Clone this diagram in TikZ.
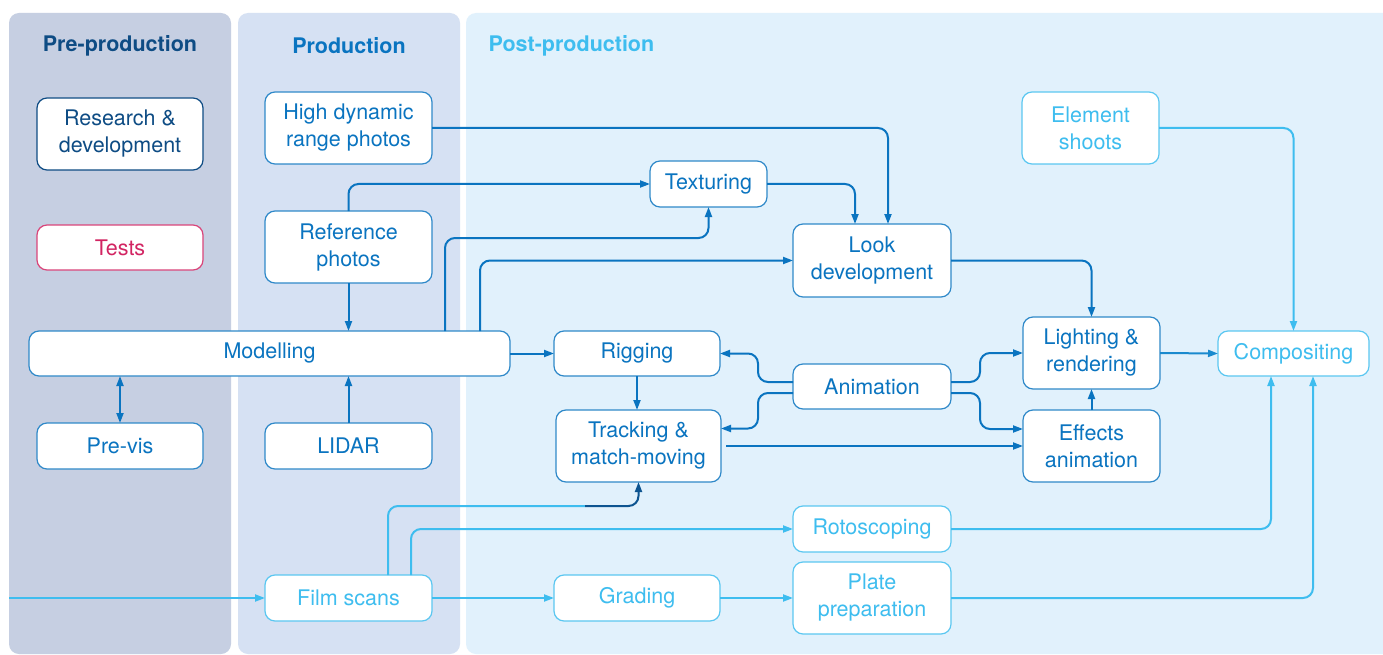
\documentclass[tikz,border=0pt]{standalone}
\usepackage{fontspec}
\setmainfont{TeX Gyre Heros}
\usetikzlibrary{arrows.meta}
\definecolor{navy}{HTML}{0E4C84}
\definecolor{mblue}{HTML}{0A74C0}
\definecolor{cyanc}{HTML}{3EBDEF}
\definecolor{crim}{HTML}{D22462}
\definecolor{prepan}{HTML}{C6CFE2}
\definecolor{prodpan}{HTML}{D6E1F3}
\definecolor{postpan}{HTML}{E1F1FC}
\tikzset{
  box/.style={draw=mblue!85!white, fill=white, text=mblue, rounded corners=10pt, line width=1.2pt,
    inner sep=0pt, outer sep=0pt, align=center, font=\fontsize{21.5}{27}\selectfont},
  navybox/.style={box, draw=navy, text=navy},
  cybox/.style={box, draw=cyanc!85!white, text=cyanc},
  crbox/.style={box, draw=crim!85!white, text=crim},
  arr/.style={draw=mblue, line width=2pt, rounded corners=10pt, -{Triangle[length=10pt,width=7pt]}},
  dblarr/.style={arr, {Triangle[length=10pt,width=7pt]}-{Triangle[length=10pt,width=7pt]}},
  cyarr/.style={arr, draw=cyanc},
  cyline/.style={draw=cyanc, line width=2pt, rounded corners=10pt},
  head/.style={font=\fontsize{21.5}{27}\selectfont\bfseries},
  panel/.style={rounded corners=10pt}
}
\begin{document}
\begin{tikzpicture}[x=1pt,y=-1pt]
\useasboundingbox (0,0) rectangle (1383,655);
\fill[white] (0,0) rectangle (1383,655);
\begin{scope}
\clip (0,0) rectangle (1383,655);
\fill[prepan, panel] (9,13) rectangle (231,654);
\fill[prodpan, panel] (238,13) rectangle (460,654);
\fill[postpan, panel] (466,13) rectangle (1395,654);
\end{scope}
\node[head, text=navy] (hpre) at (120,46) {Pre-production};
\node[head, text=mblue] (hprod) at (349,46) {Production};
\node[head, text=cyanc, anchor=west] (hpost) at (485,46) {Post-production};

% nodes
\node[navybox, minimum width=166, minimum height=72] (rd) at (120,134) {Research \&\\development};
\node[crbox, minimum width=166, minimum height=45] (tests) at (120,247.5) {Tests};
\node[box, minimum width=481, minimum height=45] (model) at (269.5,353.5) {Modelling};
\node[box, minimum width=166, minimum height=46] (previs) at (120,446) {Pre-vis};
\node[box, minimum width=167, minimum height=72] (hdr) at (348.5,128) {High dynamic\\range photos};
\node[box, minimum width=167, minimum height=72] (ref) at (348.5,247) {Reference\\photos};
\node[box, minimum width=167, minimum height=46] (lidar) at (348.5,446) {LIDAR};
\node[cybox, minimum width=167, minimum height=46] (film) at (348.5,598) {Film scans};
\node[box, minimum width=117, minimum height=46] (tex) at (708.5,184) {Texturing};
\node[box, minimum width=158, minimum height=73] (look) at (872,260.5) {Look\\development};
\node[box, minimum width=166, minimum height=45] (rig) at (637,353.5) {Rigging};
\node[box, minimum width=165, minimum height=72] (track) at (638.5,446) {Tracking \&\\match-moving};
\node[box, minimum width=158, minimum height=45] (anim) at (872,386.5) {Animation};
\node[box, minimum width=137, minimum height=72] (light) at (1091.5,353) {Lighting \&\\rendering};
\node[box, minimum width=137, minimum height=72] (fx) at (1091.5,446) {Effects\\animation};
\node[cybox, minimum width=151, minimum height=45] (comp) at (1293.5,353.5) {Compositing};
\node[cybox, minimum width=137, minimum height=72] (elem) at (1090.5,128) {Element\\shoots};
\node[cybox, minimum width=158, minimum height=46] (roto) at (872,529) {Rotoscoping};
\node[cybox, minimum width=166, minimum height=46] (grade) at (637,598) {Grading};
\node[cybox, minimum width=158, minimum height=72] (plate) at (872,598) {Plate\\preparation};
\coordinate (src) at (9,598);
\coordinate (fbend) at (585,506);

% connectors
\draw[arr] (hdr.east) -| ([xshift=16pt]look.north);
\draw[arr] (ref.north) |- (tex.west);
\draw[arr] (tex.east) -| ([xshift=-17pt]look.north);
\draw[arr] ([xshift=175.5pt]model.north) -- ++(0,-93) -| (tex.south);
\draw[arr] ([xshift=210.5pt]model.north) |- (look.west);
\draw[arr] (ref.south) -- (ref.south |- model.north);
\draw[arr] (lidar.north) -- (lidar.north |- model.south);
\draw[dblarr] (previs.north) -- (previs.north |- model.south);
\draw[arr] (model.east) -- (rig.west);
\draw[arr] (rig.south) -- (rig.south |- track.north);
\draw[arr] ([yshift=4.5pt]anim.west) -- ++(-35,0) |- (rig.east);
\draw[arr] ([yshift=-6.5pt]anim.west) -- ++(-35,0) |- ([yshift=17.5pt]track.east);
\draw[arr] ([yshift=4.5pt]anim.east) -- ++(29,0) |- (light.west);
\draw[arr] ([yshift=-6.5pt]anim.east) -- ++(29,0) |- ([yshift=17pt]fx.west);
\draw[arr] ([xshift=5pt]track.east) -- (fx.west);
\draw[arr] (look.east) -| (light.north);
\draw[arr] (fx.north) -- (light.south);
\draw[arr, draw=mblue!70!cyanc] (light.east) -- (comp.west);
\draw[cyarr] (elem.east) -| (comp.north);
\draw[cyarr] (roto.east) -| ([xshift=-22.5pt]comp.south);
\draw[cyarr] (plate.east) -| ([xshift=19.5pt]comp.south);
\draw[cyline] ([xshift=39.5pt]film.north) |- (fbend);
\draw[arr, draw=navy!80!mblue] (fbend) -| (track.south);
\draw[cyarr] ([xshift=62.5pt]film.north) |- (roto.west);
\draw[cyarr] (film.east) -- (grade.west);
\draw[cyarr] (grade.east) -- (plate.west);
\draw[cyarr] (src) -- (film.west);
\end{tikzpicture}
\end{document}
